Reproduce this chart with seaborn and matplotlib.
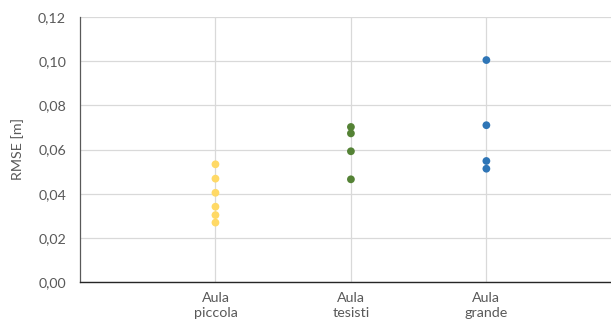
import matplotlib
matplotlib.use("Agg")
import matplotlib.pyplot as plt
import seaborn as sns
import pandas as pd
from matplotlib.ticker import FuncFormatter

categories = ["Aula\npiccola", "Aula\ntesisti", "Aula\ngrande"]
piccola = [0.0533, 0.0468, 0.0404, 0.0341, 0.0303, 0.0269]
tesisti = [0.0702, 0.0673, 0.0592, 0.0465]
grande = [0.1005, 0.0710, 0.0548, 0.0513]
colors = ["#FFD966", "#548235", "#2E75B6"]

rows = []
for cat, vals in zip(categories, [piccola, tesisti, grande]):
    for v in vals:
        rows.append({"cat": cat, "rmse": v})
df = pd.DataFrame(rows)

sns.set_theme(style="white")
plt.rcParams["font.family"] = ["Lato", "DejaVu Sans"]

fig = plt.figure(figsize=(6.11, 3.21), dpi=100)
ax = fig.add_axes([80/611, 39/321, 531/611, 265/321])

sns.stripplot(data=df, x="cat", y="rmse", hue="cat", palette=colors,
              order=categories, jitter=False, size=5.6, linewidth=0,
              legend=False, ax=ax, zorder=3)

ax.set_xlim(-1, 2.92)
ax.set_ylim(0, 0.12)
ax.set_yticks([0, 0.02, 0.04, 0.06, 0.08, 0.10, 0.12])
ax.yaxis.set_major_formatter(FuncFormatter(lambda v, p: f"{v:.2f}".replace(".", ",")))
ax.grid(True, color="#D9D9D9", linewidth=0.9, zorder=0)
ax.set_axisbelow(True)
for s in ["top", "right"]:
    ax.spines[s].set_visible(False)
ax.spines["left"].set_color("#595959")
ax.spines["left"].set_linewidth(0.9)
ax.spines["bottom"].set_color("#262626")
ax.spines["bottom"].set_linewidth(1.0)
ax.tick_params(axis="both", length=0, labelsize=10.3, labelcolor="#595959")
ax.tick_params(axis="y", pad=10)
ax.tick_params(axis="x", pad=7.5)
for t in ax.get_xticklabels():
    t.set_linespacing(1.3)
ax.set_xlabel("")
ax.set_ylabel("RMSE [m]", fontsize=10.3, color="#595959", labelpad=10)

fig.savefig("out.png", dpi=100)
